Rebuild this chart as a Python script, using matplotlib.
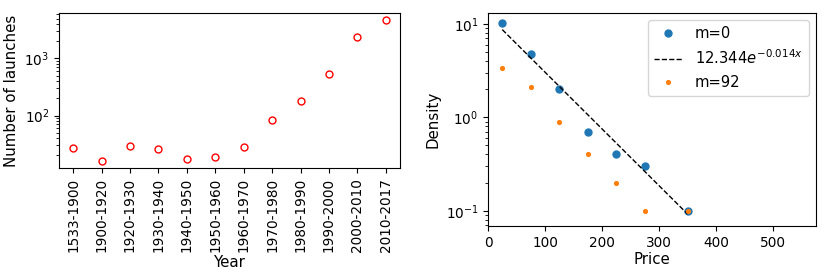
import numpy as np
import matplotlib
matplotlib.use("Agg")
import matplotlib.pyplot as plt

# left panel: launches per period
periods = ["1533-1900", "1900-1920", "1920-1930", "1930-1940", "1940-1950",
           "1950-1960", "1960-1970", "1970-1980", "1980-1990", "1990-2000",
           "2000-2010", "2010-2017"]
launches = [27.5, 16, 29.5, 26, 17.3, 18.6, 28.6, 83, 176, 530, 2340, 4700]

# right panel: price density
price = [25, 75, 125, 175, 225, 275, 350]
density_m0 = [10.2, 4.8, 2.0, 0.7, 0.4, 0.3, 0.1]
density_m92 = [3.4, 2.1, 0.9, 0.4, 0.2, 0.1, 0.1]
fit_a = 12.344
fit_b = 0.014

plt.rcParams["font.size"] = 9.8
plt.rcParams["axes.labelsize"] = 10.8

fig = plt.figure(figsize=(8.3, 2.76), dpi=100)
ax1 = fig.add_axes([59 / 830, 1 - 168 / 276, 341 / 830, 155 / 276])
ax2 = fig.add_axes([488 / 830, 1 - 226 / 276, 328 / 830, 213 / 276])

x = np.arange(len(periods))
ax1.plot(x, launches, "o", mfc="none", mec="red", ms=5, mew=1)
ax1.set_yscale("log")
ax1.set_xticks(x)
ax1.set_xticklabels(periods, rotation=90)
ax1.set_xlim(-0.5, len(periods) - 0.5)
ax1.set_xlabel("Year", labelpad=2)
ax1.set_ylabel("Number of launches")

xs = np.array(price)
ax2.plot(price, density_m0, "o", color="#1f77b4", ms=5, label="m=0")
ax2.plot(xs, fit_a * np.exp(-fit_b * xs), "k--", lw=1.0,
         label=r"$12.344e^{-0.014x}$")
ax2.plot(price, density_m92, "o", color="#ff7f0e", ms=2.7, label="m=92")
ax2.set_yscale("log")
ax2.set_xlim(0, 575)
ax2.set_ylim(0.0686, 13.1)
ax2.set_xticks([0, 100, 200, 300, 400, 500])
ax2.set_xlabel("Price", labelpad=2)
ax2.set_ylabel("Density")
ax2.legend(loc="upper right", fontsize=10.6)

fig.savefig("out.png", dpi=100)
